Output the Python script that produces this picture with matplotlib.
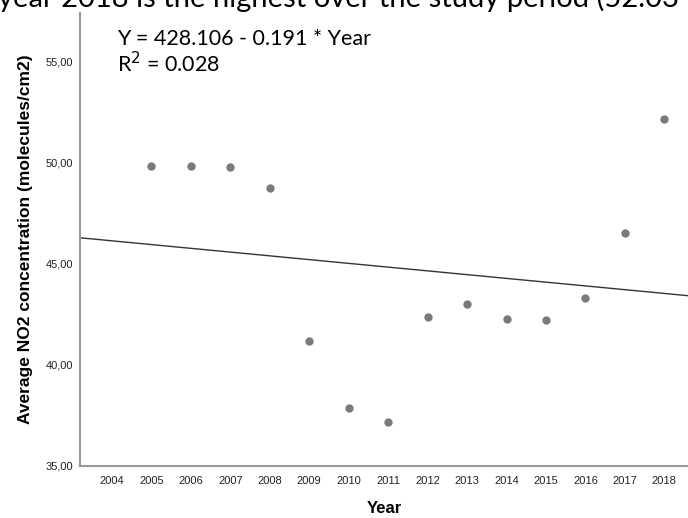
import matplotlib
matplotlib.use("Agg")
import matplotlib.pyplot as plt
import numpy as np

# NO2 yearly averages
years = np.array([2005, 2006, 2007, 2008, 2009, 2010, 2011, 2012, 2013, 2014, 2015, 2016, 2017, 2018])
no2 = np.array([49.85, 49.85, 49.78, 48.75, 41.19, 37.89, 37.16, 42.38, 43.02, 42.29, 42.21, 43.32, 46.52, 52.15])

year_ticks = list(range(2004, 2019))
y_ticks = [35, 40, 45, 50, 55]
y_tick_labels = ["35,00", "40,00", "45,00", "50,00", "55,00"]

equation = "Y = 428.106 - 0.191 * Year"
r2_text = "R$^2$ = 0.028"
caption = "year 2018 is the highest over the study period (52.03 molecules/cm2)"

plt.rcParams['font.family'] = ['Liberation Sans', 'DejaVu Sans']

fig = plt.figure(figsize=(6.88, 5.18), dpi=100)
ax = fig.add_axes([0.1163, 0.1004, 0.8837, 0.8746])

# scatter points
ax.scatter(years, no2, s=36, color='#7a7a7a', zorder=3, linewidths=0)

# least squares line across the whole x range
slope, intercept = np.polyfit(years, no2, 1)
xlim = (2003.19, 2018.6)
xs = np.array(xlim)
ax.plot(xs, intercept + slope * xs, color='#333333', linewidth=1.0)

ax.set_xlim(*xlim)
ax.set_ylim(35, 57.4)
ax.set_xticks(year_ticks)
ax.set_xticklabels([str(y) for y in year_ticks], fontsize=8)
ax.set_yticks(y_ticks)
ax.set_yticklabels(y_tick_labels, fontsize=8)
ax.tick_params(axis='x', length=0, pad=7, colors='#222222')
ax.tick_params(axis='y', length=0, pad=5, colors='#222222')

for side in ['top', 'right']:
    ax.spines[side].set_visible(False)
for side in ['left', 'bottom']:
    ax.spines[side].set_color('#999999')
    ax.spines[side].set_linewidth(1.5)

ax.set_xlabel("Year", fontsize=12, fontweight='bold', labelpad=11)
ax.set_ylabel("Average NO2 concentration (molecules/cm2)", fontsize=12.5, fontweight='bold', labelpad=9)

# regression annotation
ax.text(0.061, 0.943, equation, transform=ax.transAxes, fontsize=15.5, family=['Lato', 'DejaVu Sans'],
        va='center', ha='left')
ax.text(0.061, 0.889, r2_text, transform=ax.transAxes, fontsize=15.5, family=['Lato', 'DejaVu Sans'],
        va='center', ha='left')

# the line of body text above the chart, cut off by the top edge
fig.text(-0.003, 1 - 7 / 518, caption, fontsize=21, family=['Lato', 'DejaVu Sans'],
         va='baseline', ha='left')

fig.savefig("out.png", dpi=100)
